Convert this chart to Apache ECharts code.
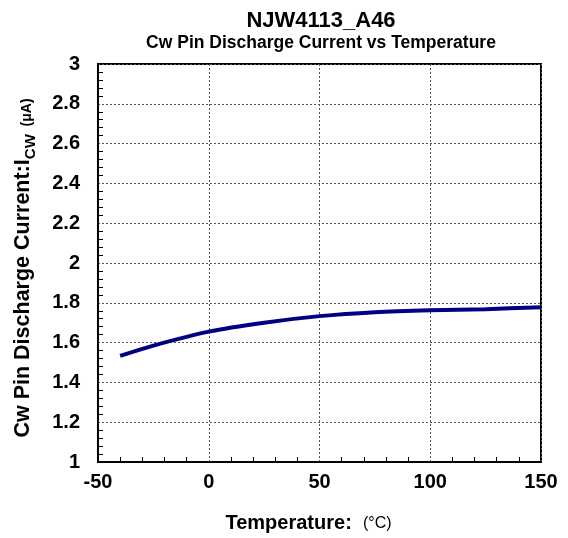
<!DOCTYPE html>
<html><head><meta charset="utf-8">
<script src="https://cdn.jsdelivr.net/npm/echarts@6/dist/echarts.min.js"></script>
<style>html,body{margin:0;padding:0;background:#fff}#c{width:568px;height:538px}</style>
</head><body><div id="c"></div>
<script>
const temperatures = [-40, -25, 0, 25, 50, 75, 100, 125, 150];
const currents = [1.533, 1.585, 1.655, 1.700, 1.733, 1.753, 1.763, 1.768, 1.778];
const xTicks = [-50, 0, 50, 100, 150];
const yTicks = [1, 1.2, 1.4, 1.6, 1.8, 2, 2.2, 2.4, 2.6, 2.8, 3];

const chart = echarts.init(document.getElementById('c'));
const FF = '"Liberation Sans", Arial, sans-serif';
chart.setOption({
  animation: false,
  textStyle: { fontFamily: FF },
  title: [
    { text: 'NJW4113_A46', left: 316, top: 5, textAlign: 'center',
      textStyle: { fontSize: 22, fontWeight: 'bold', color: '#000', fontFamily: FF } },
    { text: 'Cw Pin Discharge Current vs Temperature', left: 316, top: 29, textAlign: 'center',
      textStyle: { fontSize: 17.5, fontWeight: 'bold', color: '#000', fontFamily: FF } }
  ],
  grid: { left: 98, right: 27, top: 64, bottom: 74, show: true, borderColor: '#000', borderWidth: 2 },
  xAxis: {
    type: 'value', min: -50, max: 150, interval: 50,
    name: '{b|Temperature:  }{s|(°C)}', nameLocation: 'middle', nameGap: 47,
    nameTextStyle: { padding: [0, 22, 0, 0], rich: {
      b: { fontSize: 20, fontWeight: 'bold', color: '#000', fontFamily: FF, lineHeight: 24, verticalAlign: 'bottom' },
      s: { fontSize: 16, color: '#000', fontFamily: FF, lineHeight: 24, verticalAlign: 'bottom', padding: [0, 0, 1, 0] } } },
    axisLine: { show: true, onZero: false, lineStyle: { color: '#000', width: 2 } },
    axisTick: { show: false },
    minorTick: { show: true, splitNumber: 5, length: -5, lineStyle: { color: '#000', width: 1 } },
    axisLabel: { fontSize: 20, fontWeight: 'bold', color: '#000', margin: 10, fontFamily: FF,
      formatter: v => xTicks.includes(v) ? String(v) : '' },
    splitLine: { show: true, lineStyle: { color: '#555', type: [2, 2], width: 1 } }
  },
  yAxis: {
    type: 'value', min: 1, max: 3, interval: 0.2,
    name: '{b|Cw Pin Discharge Current:I}{sub|CW}{s|  (μA)}', nameLocation: 'middle', nameGap: 60,
    nameRotate: 90,
    nameTextStyle: { padding: [0, 10, 0, 0], rich: {
      b: { fontSize: 21.5, fontWeight: 'bold', color: '#000', fontFamily: FF, lineHeight: 28, verticalAlign: 'bottom', padding: [0, 0, 4, 0] },
      sub: { fontSize: 15, fontWeight: 'bold', color: '#000', fontFamily: FF, verticalAlign: 'bottom' },
      s: { fontSize: 14, fontWeight: 'bold', color: '#000', fontFamily: FF, verticalAlign: 'bottom', padding: [0, 0, 4, 0] } } },
    axisLine: { show: true, onZero: false, lineStyle: { color: '#000', width: 2 } },
    axisTick: { show: false },
    minorTick: { show: true, splitNumber: 5, length: -5, lineStyle: { color: '#000', width: 1 } },
    axisLabel: { fontSize: 20, fontWeight: 'bold', color: '#000', margin: 18, fontFamily: FF,
      formatter: v => { const t = yTicks.find(k => Math.abs(k - v) < 1e-6); return t === undefined ? '' : String(t); } },
    splitLine: { show: true, lineStyle: { color: '#555', type: [2, 2], width: 1 } }
  },
  series: [{
    type: 'line', data: temperatures.map((t, i) => [t, currents[i]]),
    smooth: 0.3, symbol: 'none', lineStyle: { color: '#000080', width: 4 }
  }]
});
</script></body></html>
